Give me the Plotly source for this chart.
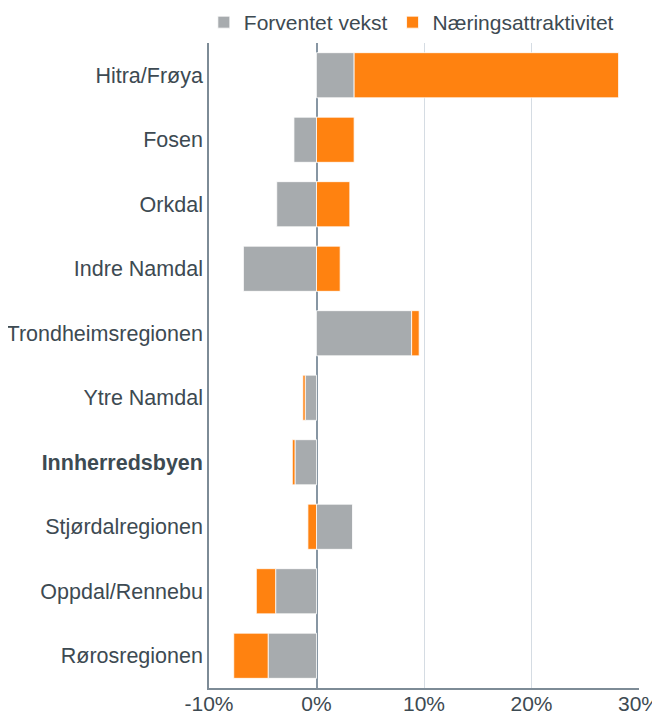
import plotly.graph_objects as go

categories = ["Hitra/Frøya", "Fosen", "Orkdal", "Indre Namdal", "Trondheimsregionen",
              "Ytre Namdal", "Innherredsbyen", "Stjørdalregionen", "Oppdal/Rennebu", "Rørosregionen"]
forventet_vekst = [3.5, -2.1, -3.7, -6.8, 8.85, -1.05, -2.0, 3.35, -3.8, -4.5]
naeringsattraktivitet = [24.6, 3.5, 3.1, 2.2, 0.7, -0.22, -0.25, -0.8, -1.8, -3.2]
tick_vals = [-10, 0, 10, 20, 30]
tick_text = ["-10%", "0%", "10%", "20%", "30%"]
bold_category = "Innherredsbyen"

ticktext_y = [f"<b>{c}</b>" if c == bold_category else c for c in categories]

fig = go.Figure()
fig.add_trace(go.Bar(y=categories, x=forventet_vekst, orientation="h", name="Forventet vekst",
                     marker=dict(color="#a7abae", line=dict(color="white", width=0.8))))
fig.add_trace(go.Bar(y=categories, x=naeringsattraktivitet, orientation="h", name="Næringsattraktivitet",
                     marker=dict(color="#ff8210", line=dict(color="white", width=0.8))))

fig.update_layout(
    barmode="relative",
    bargap=0.3,
    width=660, height=713,
    margin=dict(l=201, r=29, t=35, b=33, autoexpand=False),
    paper_bgcolor="white", plot_bgcolor="white",
    font=dict(family="Liberation Sans, Arial, sans-serif", size=21, color="#3d4a52"),
    legend=dict(orientation="h", x=-0.012, xanchor="left", y=1.0, yanchor="bottom",
                font=dict(size=21, color="#3d4a52"), itemwidth=30, traceorder="normal"),
    showlegend=True,
)
fig.update_xaxes(range=[-10, 30], tickvals=tick_vals, ticktext=tick_text,
                 showgrid=True, gridcolor="#d5dce3", gridwidth=1,
                 zeroline=True, zerolinecolor="#8796a3", zerolinewidth=1.5,
                 showline=True, linecolor="#7d8b96", linewidth=1.5, ticks="", fixedrange=True,
                 automargin=False, ticklabelstandoff=-4)
fig.update_yaxes(categoryorder="array", categoryarray=categories[::-1],
                 tickvals=categories, ticktext=ticktext_y, tickfont=dict(size=21.5),
                 showline=True, linecolor="#7d8b96", linewidth=1.5, ticks="", showgrid=False,
                 ticklabelstandoff=0, automargin=False)

fig.write_html("out.html")
